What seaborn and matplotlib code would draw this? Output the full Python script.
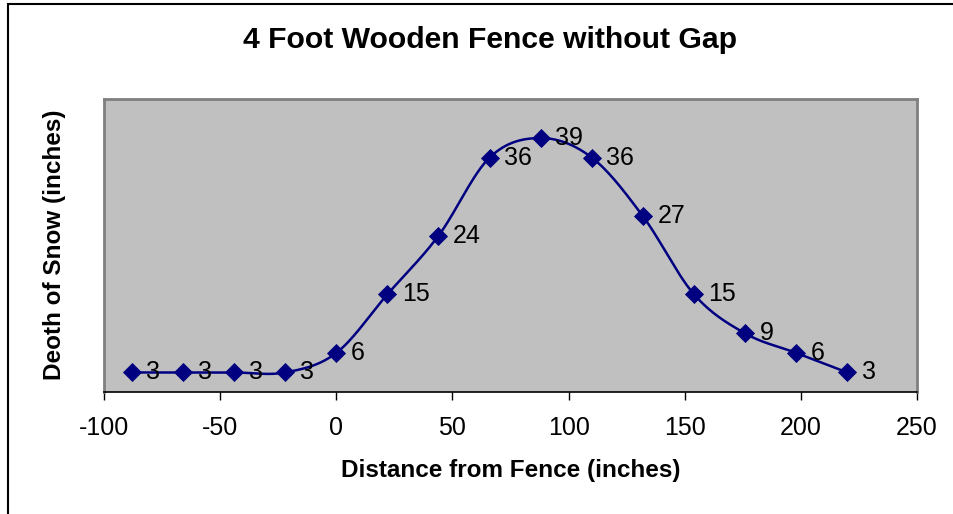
import numpy as np
import pandas as pd
import matplotlib
matplotlib.use('Agg')
import matplotlib.pyplot as plt
import seaborn as sns

# distance from fence (inches) and snow depth (inches)
distance = [-88, -66, -44, -22, 0, 22, 44, 66, 88, 110, 132, 154, 176, 198, 220]
depth = [3, 3, 3, 3, 6, 15, 24, 36, 39, 36, 27, 15, 9, 6, 3]
xticks = [-100, -50, 0, 50, 100, 150, 200, 250]

df = pd.DataFrame({'distance': distance, 'depth': depth})

sns.set_theme(style='white')
plt.rcParams['font.family'] = ['Liberation Sans', 'DejaVu Sans']
plt.rcParams['text.color'] = 'black'

navy = '#000080'


def smooth(xs, ys, n=30):
    # catmull-rom through the points, like excel's smoothed line
    px = np.r_[xs[0], xs, xs[-1]]
    py = np.r_[ys[0], ys, ys[-1]]
    outx, outy = [], []
    for i in range(1, len(px) - 2):
        t = np.linspace(0, 1, n)
        for arr, out in ((px, outx), (py, outy)):
            p0, p1, p2, p3 = arr[i - 1], arr[i], arr[i + 1], arr[i + 2]
            out.extend(0.5 * ((2 * p1) + (-p0 + p2) * t
                              + (2 * p0 - 5 * p1 + 4 * p2 - p3) * t ** 2
                              + (-p0 + 3 * p1 - 3 * p2 + p3) * t ** 3))
    return np.array(outx), np.array(outy)


fig = plt.figure(figsize=(9.54, 5.14), dpi=100)
ax = fig.add_axes([104 / 954, 1 - 392 / 514, (917 - 104) / 954, (392 - 99) / 514])
ax.set_facecolor('#C0C0C0')

cx, cy = smooth(np.array(distance, float), np.array(depth, float))
ax.plot(cx, cy, color=navy, lw=1.8, zorder=2)
sns.scatterplot(data=df, x='distance', y='depth', marker='D', s=95,
                color=navy, edgecolor=navy, linewidth=0, ax=ax, zorder=3)

for xv, yv in zip(distance, depth):
    ax.annotate(str(yv), (xv, yv), xytext=(10.5, 0), textcoords='offset points',
                ha='left', va='center', fontsize=18, color='black', zorder=4)

ax.set_xlim(-100, 250)
ax.set_ylim(0, 45)
ax.set_xticks(xticks)
ax.set_xticklabels([str(t) for t in xticks], fontsize=18, color='black')
ax.set_yticks([])
ax.tick_params(axis='x', direction='out', length=6, width=1, pad=11,
               bottom=True, colors='black')
ax.set_xlabel('')
ax.set_ylabel('')
for side in ['top', 'left', 'right']:
    ax.spines[side].set_color('#808080')
    ax.spines[side].set_linewidth(2)
ax.spines['bottom'].set_color('black')
ax.spines['bottom'].set_linewidth(1.2)

fig.text(0.514, 1 - 40 / 514, '4 Foot Wooden Fence without Gap',
         ha='center', va='center', fontsize=21.7, fontweight='bold')
fig.text(511 / 954, 1 - 470 / 514, 'Distance from Fence (inches)',
         ha='center', va='center', fontsize=17.5, fontweight='bold')
fig.text(55 / 954, 1 - 245 / 514, 'Deoth of Snow (inches)', rotation=90,
         ha='center', va='center', fontsize=17.5, fontweight='bold')

# outer chart border (left and top edges visible)
fig.add_artist(plt.Rectangle((8 / 954, -0.1), 1.2, 1 - 4 / 514 + 0.1,
                             transform=fig.transFigure, fill=False,
                             edgecolor='black', lw=1.5))

fig.savefig('out.png', dpi=100)
